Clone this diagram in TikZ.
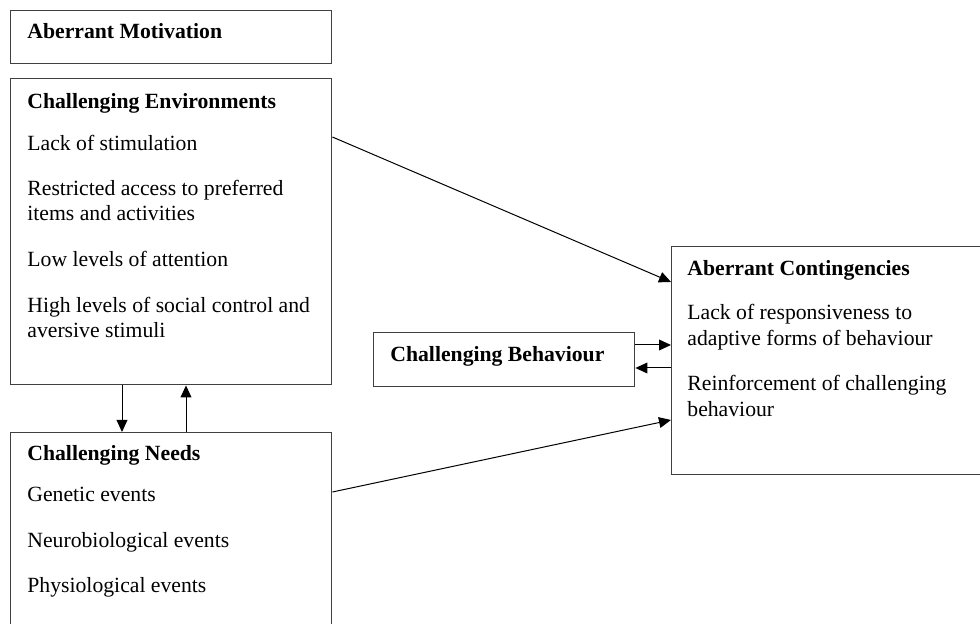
\documentclass[tikz,border=0pt]{standalone}
\usepackage{fontspec}
\setmainfont{Liberation Serif}
\usetikzlibrary{arrows.meta,positioning,calc}
\tikzset{
  framebox/.style={draw=black!75,line width=0.7pt,anchor=north west,
                   inner sep=0pt,minimum width=160.5pt},
  boxtext/.style={anchor=north west,align=left,inner sep=0pt,
                  font=\fontsize{10.85}{12.5}\selectfont},
  linkarr/.style={-{Triangle[length=6pt,width=5.4pt]},line width=0.5pt}
}
\begin{document}
\begin{tikzpicture}[x=0.5pt,y=-0.5pt]
  \useasboundingbox (0,0) rectangle (980,624);
  \clip (0,0) rectangle (980,624);
  \fill[white] (0,0) rectangle (980,624);

  % boxes
  \node[framebox,minimum height=26.5pt] (mot) at (10,10) {};
  \node[framebox,minimum height=153pt] (env) at (10,78) {};
  \node[framebox,minimum height=110pt] (need) at (10,432) {};
  \node[framebox,minimum width=130.5pt,minimum height=27pt] (beh) at (373,332) {};
  \node[framebox,minimum width=165pt,minimum height=114pt] (cont) at (671,246) {};

  % texts
  \node[boxtext] (motT) at ($(mot.north west)+(17,13)$) {\bfseries Aberrant Motivation};
  \node[boxtext] (envT) at ($(env.north west)+(17,15)$) {%
    \bfseries Challenging Environments\\[8.5pt]
    Lack of stimulation\\[10pt]
    Restricted access to preferred\\
    items and activities\\[10.5pt]
    Low levels of attention\\[10.5pt]
    High levels of social control and\\
    aversive stimuli};
  \node[boxtext] (needT) at ($(need.north west)+(17,13)$) {%
    \bfseries Challenging Needs\\[8pt]
    Genetic events\\[10.5pt]
    Neurobiological events\\[10pt]
    Physiological events};
  \node[boxtext] (behT) at ($(beh.north west)+(17,14)$) {\bfseries Challenging Behaviour};
  \node[boxtext,font=\fontsize{10.85}{13}\selectfont] (contT) at ($(cont.north west)+(16,14)$) {%
    \bfseries Aberrant Contingencies\\[9pt]
    Lack of responsiveness to\\
    adaptive forms of behaviour\\[9.5pt]
    Reinforcement of challenging\\
    behaviour};

  % connectors
  \draw[linkarr] ($(env.north east)+(0,59)$) -- ($(cont.north west)+(0,36)$);
  \draw[linkarr] ($(need.north east)+(0,60)$) -- ($(cont.north west)+(0,174)$);
  \draw[linkarr] ($(beh.north east)+(0,13)$) coordinate (b1) -- (b1 -| cont.west);
  \coordinate (b2) at ($(beh.north east)+(0,36)$);
  \draw[linkarr] (b2 -| cont.west) -- (b2);
  \draw[linkarr] ($(env.south west)+(112,0)$) coordinate (d1) -- (d1 |- need.north);
  \draw[linkarr] ($(need.north west)+(176,0)$) coordinate (u1) -- (u1 |- env.south);
\end{tikzpicture}
\end{document}
